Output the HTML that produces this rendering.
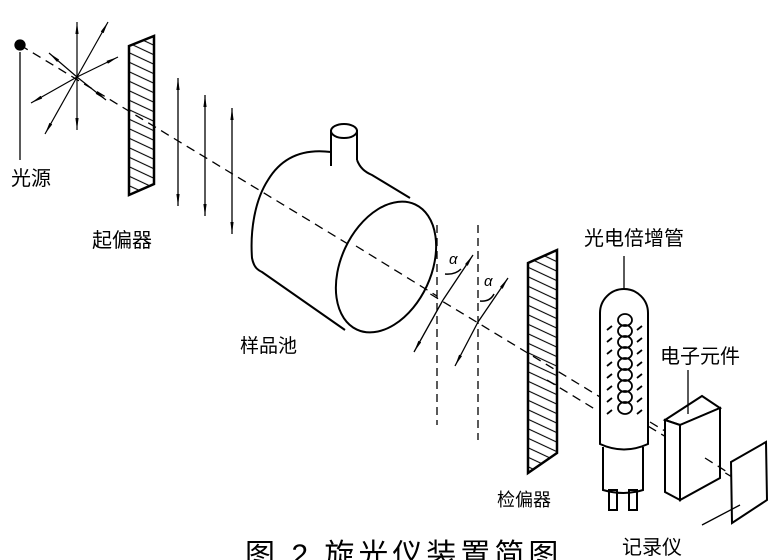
<!DOCTYPE html>
<html><head><meta charset="utf-8"><style>
html,body{margin:0;padding:0;background:#fff;}
svg{display:block}
text{font-family:"Liberation Sans","Noto Sans CJK SC",sans-serif;fill:#000}
</style></head><body>
<svg width="775" height="560" viewBox="0 0 775 560" xmlns="http://www.w3.org/2000/svg">
<defs>
<marker id="ah" viewBox="0 0 12 4" refX="12" refY="2" markerWidth="12" markerHeight="4" orient="auto" markerUnits="userSpaceOnUse"><path d="M0,0.4 L12,2 L0,3.6 Z" fill="#000"/></marker>
<pattern id="hatch" patternUnits="userSpaceOnUse" width="10" height="9.5" patternTransform="skewY(25)"><line x1="0" y1="2" x2="10" y2="2" stroke="#000" stroke-width="1.2"/></pattern>
</defs>
<g stroke="#000" fill="none" stroke-width="1.3">
<line x1="20" y1="45" x2="760" y2="494" stroke-dasharray="9,6"/>
<circle cx="20" cy="45" r="5" fill="#000"/>
<line x1="20" y1="52" x2="20" y2="160"/>
<g stroke-width="1.2">
<line x1="77" y1="77" x2="77" y2="22" marker-end="url(#ah)"/>
<line x1="77" y1="77" x2="77" y2="130" marker-end="url(#ah)"/>
<line x1="77" y1="77" x2="108" y2="22" marker-end="url(#ah)"/>
<line x1="77" y1="77" x2="45" y2="134" marker-end="url(#ah)"/>
<line x1="77" y1="77" x2="118" y2="57" marker-end="url(#ah)"/>
<line x1="77" y1="77" x2="31" y2="103" marker-end="url(#ah)"/>
<line x1="77" y1="77" x2="49" y2="53" marker-end="url(#ah)"/>
<line x1="77" y1="77" x2="106" y2="100" marker-end="url(#ah)"/>
</g>
<polygon points="129,46 154,36 154,184 129,195" fill="url(#hatch)" stroke-width="2.5"/>
<line x1="178" y1="142" x2="178" y2="78" marker-end="url(#ah)"/>
<line x1="178" y1="142" x2="178" y2="206" marker-end="url(#ah)"/>
<line x1="205" y1="155" x2="205" y2="95" marker-end="url(#ah)"/>
<line x1="205" y1="155" x2="205" y2="216" marker-end="url(#ah)"/>
<line x1="232" y1="170" x2="232" y2="108" marker-end="url(#ah)"/>
<line x1="232" y1="170" x2="232" y2="234" marker-end="url(#ah)"/>
<g stroke-width="2">
<path d="M331,152 C300,148 280,160 268,180 C255,200 250,230 252,258 C254,268 258,270 262,272 L345,330"/>
<path d="M357,160 C360,168 365,172 372,175 L410,198"/>
<line x1="331" y1="130" x2="331" y2="166"/>
<line x1="357" y1="130" x2="357" y2="160"/>
<ellipse cx="344" cy="131" rx="13" ry="7" fill="#fff"/>
<ellipse cx="386" cy="267" rx="45" ry="69" transform="rotate(25 386 267)" fill="#fff"/>
</g>
<line x1="356" y1="246" x2="437" y2="296" stroke-dasharray="9,6"/>
<line x1="437" y1="225" x2="437" y2="425" stroke-dasharray="8,5"/>
<line x1="478" y1="225" x2="478" y2="440" stroke-dasharray="8,5"/>
<line x1="443" y1="300" x2="473" y2="255" marker-end="url(#ah)"/>
<line x1="443" y1="300" x2="414" y2="352" marker-end="url(#ah)"/>
<line x1="478" y1="322" x2="508" y2="278" marker-end="url(#ah)"/>
<line x1="478" y1="322" x2="455" y2="366" marker-end="url(#ah)"/>
<path d="M445,274 Q455,275 461,269" stroke-width="1.5"/>
<path d="M480,301 Q490,302 494,294" stroke-width="1.5"/>
<polygon points="528,263 557,250 557,453 528,473" fill="url(#hatch)" stroke-width="2.5"/>
<g stroke-width="2">
<path d="M600,444 L600,313 A24,24 0 0 1 648,313 L648,444 Q624,455 600,444 Z" fill="#fff"/>
<path d="M603,447 L603,490 Q624,496 643,490 L643,447"/>
<rect x="609" y="490" width="8" height="20"/>
<rect x="629" y="490" width="8" height="20"/>
</g>
<line x1="624" y1="256" x2="624" y2="290"/>
<g stroke-width="1.8">
<ellipse cx="625" cy="320" rx="7" ry="6"/>
<ellipse cx="625" cy="331" rx="7" ry="6"/>
<ellipse cx="625" cy="342" rx="7" ry="6"/>
<ellipse cx="625" cy="353" rx="7" ry="6"/>
<ellipse cx="625" cy="364" rx="7" ry="6"/>
<ellipse cx="625" cy="375" rx="7" ry="6"/>
<ellipse cx="625" cy="386" rx="7" ry="6"/>
<ellipse cx="625" cy="397" rx="7" ry="6"/>
<ellipse cx="625" cy="408" rx="7" ry="6"/>
<path d="M607,330 l5,-4 M607,342 l5,-4 M607,354 l5,-4 M607,366 l5,-4 M607,378 l5,-4 M607,390 l5,-4 M607,402 l5,-4 M607,414 l5,-4"/>
<path d="M637,330 l5,-4 M637,342 l5,-4 M637,354 l5,-4 M637,366 l5,-4 M637,378 l5,-4 M637,390 l5,-4 M637,402 l5,-4 M637,414 l5,-4"/>
</g>
<line x1="547" y1="380" x2="598" y2="411" stroke-dasharray="9,6"/>
<line x1="650" y1="422" x2="665" y2="431" stroke-dasharray="9,6"/>
<g stroke-width="2" fill="#fff">
<polygon points="665,420 702,396 720,408 680,425"/>
<polygon points="680,425 720,408 720,478 680,500"/>
<polygon points="665,420 680,425 680,500 665,492"/>
</g>
<line x1="688" y1="370" x2="688" y2="414"/>
<line x1="705" y1="458" x2="740" y2="480" stroke-dasharray="9,6"/>
<polygon points="731,462 766,442 767,500 732,523" fill="#fff" stroke-width="2"/>
<line x1="702" y1="525" x2="740" y2="505"/>
</g>
<g>
<text x="449" y="264" font-size="15" font-family="Liberation Serif" font-style="italic">α</text>
<text x="484" y="286" font-size="15" font-family="Liberation Serif" font-style="italic">α</text>
<text x="11" y="185" font-size="20">光源</text>
<text x="92" y="247" font-size="20">起偏器</text>
<text x="240" y="352" font-size="19">样品池</text>
<text x="584" y="245" font-size="20">光电倍增管</text>
<text x="660" y="363" font-size="20">电子元件</text>
<text x="497" y="506" font-size="18">检偏器</text>
<text x="622" y="554" font-size="20">记录仪</text>
<text x="245" y="565" font-size="30" letter-spacing="4">图 2  旋光仪装置简图</text>
</g>
</svg>
</body></html>
